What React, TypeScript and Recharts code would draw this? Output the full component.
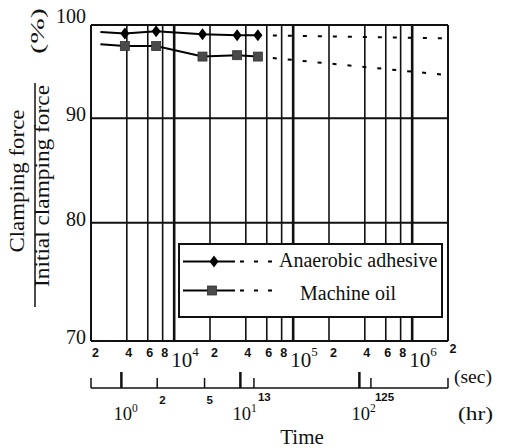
import React from 'react';
import { ComposedChart, Line, XAxis, YAxis, ReferenceLine, Legend } from 'recharts';

// ---- data ----
const timeSec = [2400, 3850, 7050, 17300, 33800, 50500, 2000000];
const adhesive = [99.2, 99.05, 99.3, 98.95, 98.85, 98.85, 98.5];
const machineOil = [97.85, 97.65, 97.65, 96.5, 96.65, 96.5, 94.5];
const measuredCount = 6; // solid (measured) part, rest is extrapolated (dotted)
const seriesNames = ['Anaerobic adhesive', 'Machine oil'];

const secTicks = [2000, 4000, 6000, 8000, 10000, 20000, 40000, 60000, 80000, 100000, 200000, 400000, 600000, 800000, 1000000, 2000000];
const secTickLabels = ['2', '4', '6', '8', '10^4', '2', '4', '6', '8', '10^5', '2', '4', '6', '8', '10^6', '2'];
const hrTicks = [1, 2, 5, 10, 13, 100, 125];
const hrTickLabels = ['10^0', '2', '5', '10^1', '13', '10^2', '125'];
const yTicks = [70, 80, 90, 100];
const yGrid = [70, 80, 90, 100];

const X_DOMAIN = [2000, 2000000];
const SERIF = 'Liberation Serif, Times New Roman, serif';
const SANS = 'Liberation Sans, Arial, sans-serif';
const INK = '#111';
const SEC_ID = 'a-sec';
const HR_ID = 'b-hr';

const rows = timeSec.map((t, i) => ({
  t,
  adhSolid: i < measuredCount ? adhesive[i] : null,
  adhDash: i >= measuredCount - 1 ? adhesive[i] : null,
  oilSolid: i < measuredCount ? machineOil[i] : null,
  oilDash: i >= measuredCount - 1 ? machineOil[i] : null,
}));

const hrTicksSec = [X_DOMAIN[0], ...hrTicks.map((h) => h * 3600), X_DOMAIN[1]];

const Diamond = ({ cx, cy }: any) => (
  <polygon points={`${cx},${cy - 6} ${cx + 4.5},${cy} ${cx},${cy + 6} ${cx - 4.5},${cy}`} fill="#000" />
);
const Square = ({ cx, cy }: any) => (
  <rect x={cx - 4.5} y={cy - 4.5} width={9} height={9} fill="#4a4a4a" stroke="#333" strokeWidth={0.8} />
);

const renderDiamond = (p: any) => {
  const { cx, cy, index } = p;
  if (index === 0 || cx == null || cy == null || p.value == null) return <g key={`d${index}`} />;
  return <g key={`d${index}`}><Diamond cx={cx} cy={cy} /></g>;
};
const renderSquare = (p: any) => {
  const { cx, cy, index } = p;
  if (index === 0 || cx == null || cy == null || p.value == null) return <g key={`s${index}`} />;
  return <g key={`s${index}`}><Square cx={cx} cy={cy} /></g>;
};

const PowerText = ({ x, y, label, big, small, dy }: any) => {
  const [base, exp] = label.split('^');
  return (
    <text x={x} y={y} fontFamily={SERIF} fontSize={big} fill={INK}>
      <tspan>{base}</tspan>
      <tspan fontSize={small} dy={dy}>{exp}</tspan>
    </text>
  );
};

const SecTick = (props: any) => {
  const { x, y, payload } = props;
  const idx = secTicks.indexOf(payload.value);
  const label = secTickLabels[idx];
  if (label == null) return <g />;
  if (label.includes('^')) {
    return <PowerText x={x - 3} y={y + 26} label={label} big={21} small={13} dy={-11} />;
  }
  const last = idx === secTicks.length - 1;
  const off = label === '2' ? 4.5 : 2;
  return (
    <text x={x + (last ? 5 : off)} y={y + (last ? 12 : 16)} textAnchor="middle" fontFamily={SANS} fontWeight="bold" fontSize={12.5} fill={INK}>
      {label}
    </text>
  );
};

const HrTick = (props: any) => {
  const { x, y, payload } = props;
  const v = payload.value;
  if (v === X_DOMAIN[0] || v === X_DOMAIN[1]) {
    return <line x1={x} x2={x} y1={y} y2={y - 10} stroke={INK} strokeWidth={1.5} />;
  }
  const idx = hrTicks.indexOf(Math.round(v / 3600));
  const label = hrTickLabels[idx];
  const major = label.includes('^');
  const multi = label.length > 1;
  return (
    <g>
      <line x1={x} x2={x} y1={y} y2={y - (major ? 16 : 10)} stroke={INK} strokeWidth={major ? 2.5 : 1.5} />
      {major ? (
        <PowerText x={x - 8} y={y + 32} label={label} big={18.5} small={11.5} dy={-8} />
      ) : (
        <text x={x + (multi ? 4 : 2)} y={y + (multi ? 13 : 16)} fontFamily={SANS} fontWeight="bold" fontSize={11.5} fill={INK}>
          {label}
        </text>
      )}
    </g>
  );
};

const YTick = (props: any) => {
  const { x, y, payload } = props;
  const v = payload.value;
  return (
    <text x={x} y={y + (v === 100 ? -2 : 3)} textAnchor="end" fontFamily={SERIF} fontSize={20} fill={INK}>
      {v}
    </text>
  );
};

const YLabel = () => (
  <g fontFamily={SERIF} fill={INK}>
    <text transform="rotate(-90 44 31)" x={44} y={31} textAnchor="middle" fontSize={18} textLength={46} lengthAdjust="spacingAndGlyphs">(%)</text>
    <text transform="rotate(-90 24 181)" x={24} y={181} textAnchor="middle" fontSize={20} textLength={143} lengthAdjust="spacingAndGlyphs">Clamping force</text>
    <line x1={35} x2={35} y1={83} y2={307} stroke={INK} strokeWidth={1.5} />
    <text transform="rotate(-90 49 186)" x={49} y={186} textAnchor="middle" fontSize={20} textLength={202} lengthAdjust="spacingAndGlyphs">Initial clamping force</text>
  </g>
);

const XLabels = () => (
  <g fontFamily={SERIF} fill={INK}>
    <text x={454} y={383} fontSize={19} textLength={38} lengthAdjust="spacingAndGlyphs">(sec)</text>
    <text x={458} y={420} fontSize={19} textLength={35} lengthAdjust="spacingAndGlyphs">(hr)</text>
    <text x={302} y={444} textAnchor="middle" fontSize={21}>Time</text>
  </g>
);

const LegendBox = () => (
  <svg width={265} height={75} style={{ display: 'block' }}>
    <rect x={1} y={1} width={263} height={73} fill="#fff" stroke={INK} strokeWidth={2} />
    <g>
      <line x1={5} x2={57} y1={18.5} y2={18.5} stroke="#000" strokeWidth={2} />
      <line x1={62} x2={100} y1={18.5} y2={18.5} stroke="#000" strokeWidth={2} strokeDasharray="4 10" />
      <Diamond cx={36} cy={18.5} />
      <text x={101} y={24} fontFamily={SERIF} fontSize={20} fill={INK}>{seriesNames[0]}</text>
    </g>
    <g>
      <line x1={5} x2={57} y1={47.5} y2={47.5} stroke="#000" strokeWidth={2} />
      <line x1={62} x2={100} y1={47.5} y2={47.5} stroke="#000" strokeWidth={2} strokeDasharray="4 10" />
      <Square cx={34} cy={47.5} />
      <text x={122} y={57} fontFamily={SERIF} fontSize={20} fill={INK}>{seriesNames[1]}</text>
    </g>
  </svg>
);

const isDecade = (v: number) => Math.abs(Math.log10(v) - Math.round(Math.log10(v))) < 1e-9;

export default function App() {
  return (
    <div style={{ position: 'absolute', left: 0, top: 0, width: 509, height: 448, background: '#fff' }}>
      <ComposedChart
        width={509}
        height={448}
        data={rows}
        margin={{ top: 25, right: 61, bottom: 0, left: 0 }}
        style={{ fontFamily: SERIF }}
      >
        <XAxis
          xAxisId={SEC_ID}
          dataKey="t"
          type="number"
          scale="log"
          domain={X_DOMAIN}
          allowDataOverflow
          ticks={secTicks}
          interval={0}
          axisLine={false}
          tickLine={false}
          tickSize={0}
          tickMargin={0}
          height={47}
          tick={<SecTick />}
        />
        <XAxis
          xAxisId={HR_ID}
          dataKey="t"
          type="number"
          scale="log"
          domain={X_DOMAIN}
          allowDataOverflow
          ticks={hrTicksSec}
          interval={0}
          axisLine={{ stroke: INK, strokeWidth: 1.5 }}
          tickLine={false}
          tickSize={0}
          tickMargin={0}
          height={60}
          tick={<HrTick />}
          label={<XLabels />}
        />
        <YAxis
          type="number"
          scale="log"
          domain={[70, 100]}
          allowDataOverflow
          ticks={yTicks}
          interval={0}
          axisLine={false}
          tickLine={false}
          tickSize={0}
          tickMargin={5}
          width={91}
          tick={<YTick />}
          label={<YLabel />}
        />
        {secTicks.map((v, i) => (
          <ReferenceLine
            key={`vx${i}`}
            xAxisId={SEC_ID}
            x={v}
            stroke={INK}
            strokeWidth={i === 0 || i === secTicks.length - 1 ? 2 : isDecade(v) ? 2.6 : 1.6}
          />
        ))}
        {yGrid.map((v) => (
          <ReferenceLine key={`hy${v}`} xAxisId={SEC_ID} y={v} stroke={INK} strokeWidth={2} />
        ))}
        <Line xAxisId={SEC_ID} dataKey="adhSolid" stroke="#000" strokeWidth={2} dot={renderDiamond} activeDot={false} isAnimationActive={false} />
        <Line xAxisId={SEC_ID} dataKey="adhDash" stroke="#000" strokeWidth={2} strokeDasharray="4 11" dot={false} activeDot={false} isAnimationActive={false} />
        <Line xAxisId={SEC_ID} dataKey="oilSolid" stroke="#000" strokeWidth={2} dot={renderSquare} activeDot={false} isAnimationActive={false} />
        <Line xAxisId={SEC_ID} dataKey="oilDash" stroke="#000" strokeWidth={2} strokeDasharray="4 11" dot={false} activeDot={false} isAnimationActive={false} />
        <Legend
          verticalAlign="middle"
          align="center"
          layout="horizontal"
          wrapperStyle={{ left: 178, top: 243, width: 265, height: 75 }}
          content={() => <LegendBox />}
        />
      </ComposedChart>
    </div>
  );
}
